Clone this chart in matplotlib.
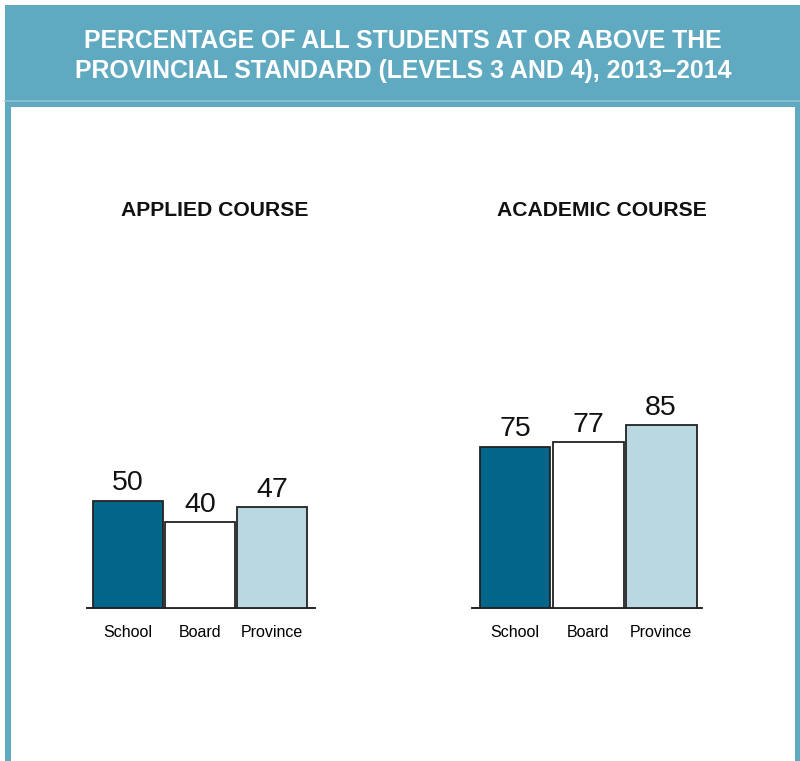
import matplotlib
matplotlib.use("Agg")
import matplotlib.pyplot as plt
from matplotlib.patches import Rectangle

title = "PERCENTAGE OF ALL STUDENTS AT OR ABOVE THE\nPROVINCIAL STANDARD (LEVELS 3 AND 4), 2013\u20132014"
categories = ["School", "Board", "Province"]
applied_values = [50, 40, 47]
academic_values = [75, 77, 85]
panel_titles = ["APPLIED COURSE", "ACADEMIC COURSE"]

bar_colors = ["#02668a", "#ffffff", "#bad8e2"]
teal = "#5fa9c1"

W, H = 800, 761
fig = plt.figure(figsize=(W / 100, H / 100), dpi=100)
plt.rcParams['font.family'] = ['Liberation Sans', 'DejaVu Sans']

def fx(px):
    return px / W

def fy(py):
    return 1 - py / H

# frame
fig.patches.append(Rectangle((fx(5), 0), fx(800) - fx(5), fy(5), transform=fig.transFigure,
                             facecolor=teal, edgecolor="none", zorder=0))
fig.patches.append(Rectangle((fx(11), 0), fx(795) - fx(11), fy(107), transform=fig.transFigure,
                             facecolor="white", edgecolor="none", zorder=1))
fig.add_artist(plt.Line2D([fx(5), fx(800)], [fy(101), fy(101)], transform=fig.transFigure,
                          color="#8cc3d4", lw=1.2, zorder=2))

fig.text(fx(403), fy(56), title, color="white", fontsize=17.9, fontweight="bold",
         ha="center", va="center", linespacing=1.33, zorder=3)

def panel(x0, x1, values, name, label_x, xlim):
    base = 608
    top = 393
    ax = fig.add_axes([fx(x0), fy(base), fx(x1) - fx(x0), fy(top) - fy(base)])
    ax.set_zorder(5)
    xs = list(range(len(values)))
    ax.bar(xs, values, width=0.97, color=bar_colors, edgecolor="#222222", linewidth=1.3, zorder=3)
    for x, v in zip(xs, values):
        ax.text(x, v + 2.0, str(v), ha="center", va="bottom", fontsize=20.5, color="#111111")
    ax.set_ylim(0, 100)
    ax.set_xlim(*xlim)
    for s in ["top", "right", "left"]:
        ax.spines[s].set_visible(False)
    ax.spines["bottom"].set_linewidth(1.3)
    ax.spines["bottom"].set_color("#111111")
    ax.set_yticks([])
    ax.set_xticks(xs)
    ax.set_xticklabels(categories, fontsize=11.5)
    ax.tick_params(axis="x", length=0, pad=12)
    ax.patch.set_alpha(0)
    fig.text(fx(label_x), fy(211), name, ha="center", va="center", fontsize=15.2,
             fontweight="bold", color="#111111", zorder=6)

panel(87, 315, applied_values, panel_titles[0], 215, (-0.57, 2.6))
panel(472, 702, academic_values, panel_titles[1], 602, (-0.59, 2.56))

fig.savefig("out.png", dpi=100)
